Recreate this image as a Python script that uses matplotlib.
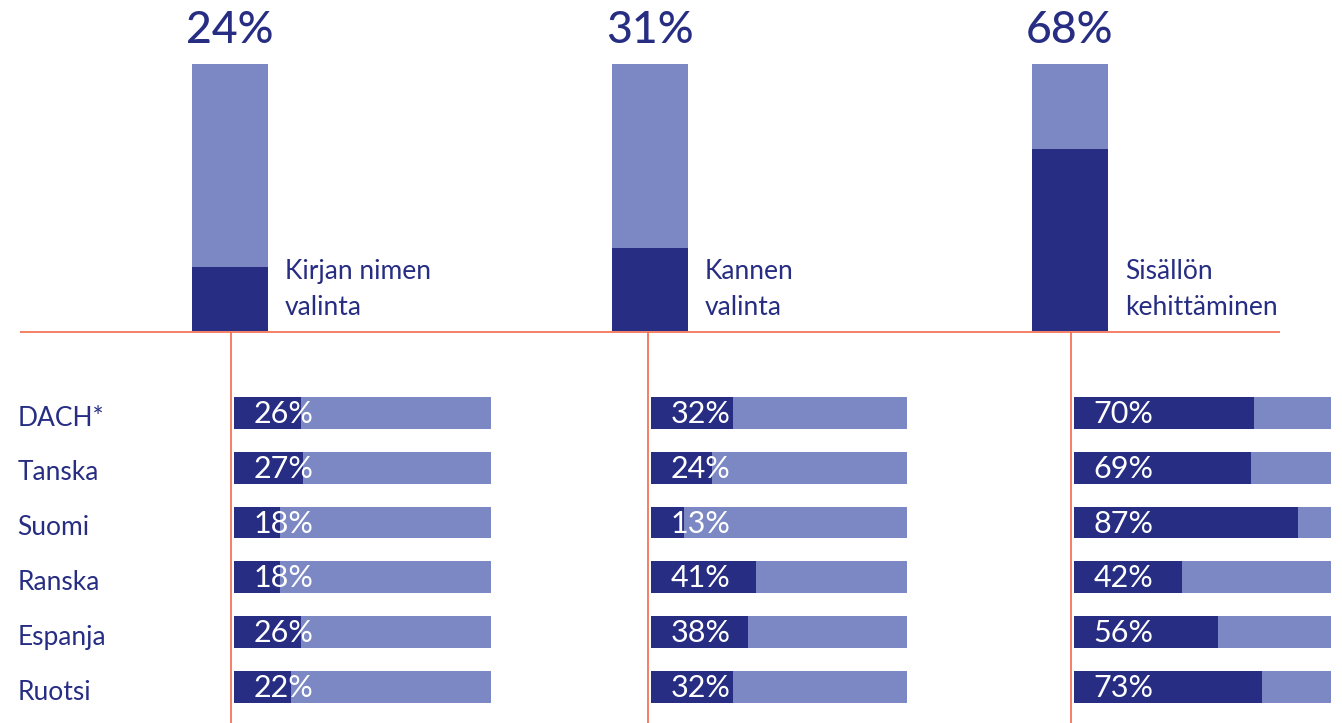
import matplotlib
matplotlib.use("Agg")
import matplotlib.pyplot as plt

plt.rcParams['font.family'] = ['Lato', 'DejaVu Sans']

NAVY = '#262d82'
LIGHT = '#7c88c3'
ORANGE = '#f26a4b'

# overall shares per task
tasks = ['Kirjan nimen\nvalinta', 'Kannen\nvalinta', 'Sisällön\nkehittäminen']
overall = [24, 31, 68]

# shares by country
countries = ['DACH*', 'Tanska', 'Suomi', 'Ranska', 'Espanja', 'Ruotsi']
title_choice = [26, 27, 18, 18, 26, 22]
cover_choice = [32, 24, 13, 41, 38, 32]
content_dev = [70, 69, 87, 42, 56, 73]
by_country = [title_choice, cover_choice, content_dev]

W, H = 1342, 723
fig = plt.figure(figsize=(W / 100, H / 100), dpi=100)


def box(x0, y0, x1, y1):
    # pixel box (top-left origin) -> figure fraction rect
    return [x0 / W, 1 - y1 / H, (x1 - x0) / W, (y1 - y0) / H]


# top stacked columns
top = fig.add_axes(box(0, 64, W, 331))
top.set_xlim(-230 / 420, (W - 230) / 420)
top.set_ylim(0, 100)
top.axis('off')
xs = range(len(tasks))
top.bar(xs, [100] * len(tasks), width=0.181, color=LIGHT)
top.bar(xs, overall, width=0.181, color=NAVY)
for x, v, t in zip(xs, overall, tasks):
    top.text(x, 112.5, f'{v}%', ha='center', va='center', fontsize=32,
             fontweight='medium', color=NAVY)
    top.text(x + 0.131, 15.5, t, ha='left', va='center', fontsize=19,
             color=NAVY, linespacing=1.55)
top.hlines(-0.4, -0.5, 2.5, color=ORANGE, lw=1.2, clip_on=False)

# country breakdown, one panel per task
lefts = [(234, 491), (651, 907), (1074, 1331)]
for i, ((x0, x1), vals) in enumerate(zip(lefts, by_country)):
    ax = fig.add_axes(box(x0, 333, x1, H))
    ax.set_xlim(0, 100)
    ax.set_ylim(-1.4545 + 391 / 55, -1.4545)
    ys = range(len(countries))
    ax.barh(ys, [100] * len(countries), height=0.582, color=LIGHT)
    ax.barh(ys, vals, height=0.582, color=NAVY)
    for y, v in zip(ys, vals):
        ax.text(7.5, y + 0.02, f'{v}%', ha='left', va='center', fontsize=22,
                color='white')
    for s in ['top', 'right', 'bottom']:
        ax.spines[s].set_visible(False)
    ax.spines['left'].set_color(ORANGE)
    ax.spines['left'].set_linewidth(1.2)
    ax.spines['left'].set_position(('outward', 2))
    ax.set_xticks([])
    if i == 0:
        ax.set_yticks([y + 0.05 for y in ys])
        ax.set_yticklabels(countries, fontsize=19, color=NAVY, ha='left')
        ax.tick_params(axis='y', length=0, pad=(x0 - 20) * 0.72)
    else:
        ax.set_yticks([])

fig.savefig('out.png', dpi=100)
